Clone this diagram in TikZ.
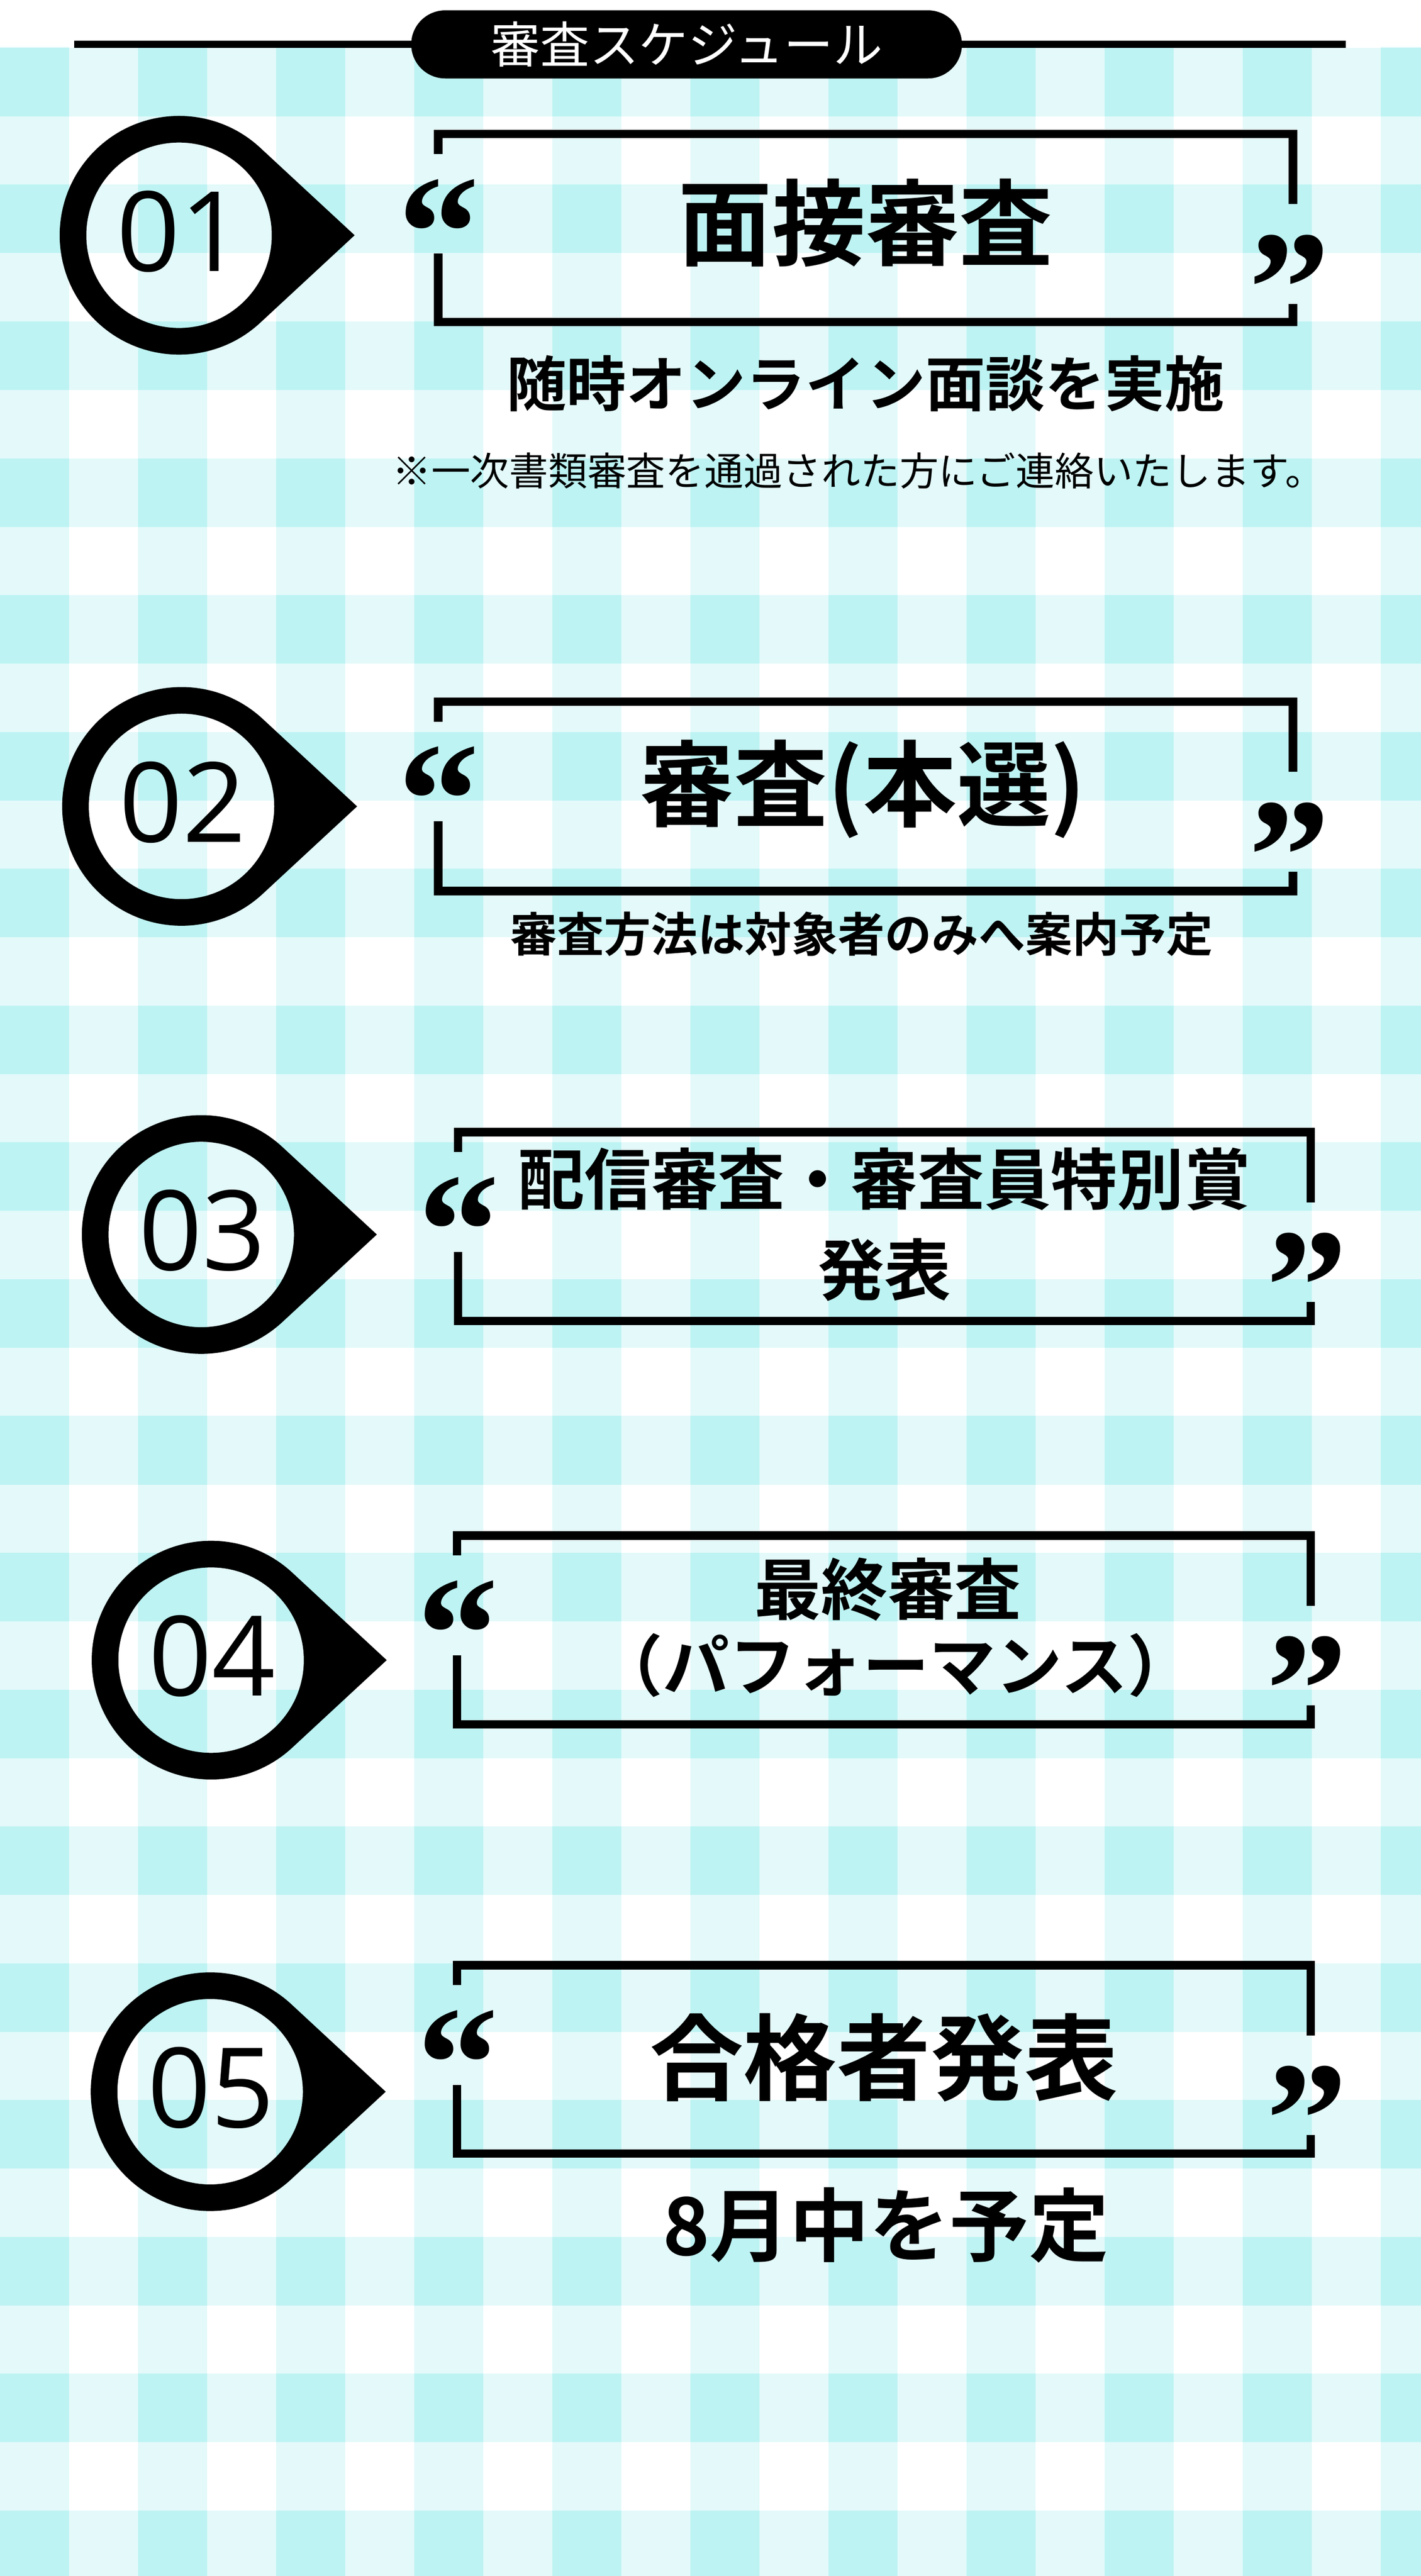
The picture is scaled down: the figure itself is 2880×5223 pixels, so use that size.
\documentclass[tikz,border=0pt]{standalone}
\usepackage{fontspec}
\setmainfont{Open Sans}
\newfontfamily\jp{Noto Sans CJK JP}
\newfontfamily\jpbold{Noto Sans CJK JP Bold}
\newfontfamily\qfont{Liberation Serif}
\usetikzlibrary{calc}
\definecolor{gcyan}{HTML}{BDF3F3}
\definecolor{glight}{HTML}{E3F9FA}
\tikzset{
  ttl/.style={font=\jpbold\fontsize{54}{60}\selectfont, inner sep=0pt},
  mid/.style={font=\jpbold\fontsize{38.4}{44}\selectfont, inner sep=0pt},
  quote/.style={font=\qfont\bfseries\fontsize{94}{94}\selectfont, inner sep=0pt, anchor=base},
  num/.style={font=\fontsize{64}{64}\selectfont, inner sep=0pt},
}
\newcommand\mybox[5]{% name L T R B
  \draw[line width=4.84pt] (#2+8.5,-#3-49) -- (#2+8.5,-#3-8.5) -- (#4-8.5,-#3-8.5) -- (#4-8.5,-#3-151);
  \draw[line width=4.84pt] (#4-8.5,-#3-353) -- (#4-8.5,-#5+8.5) -- (#2+8.5,-#5+8.5) -- (#2+8.5,-#3-251);
  \node[quote] (#1lq) at (#2+10,-#3-137-183) {“};
  \node[quote] (#1rq) at (#4-16,-#3-250-183) {”};
}
\newcommand\mymarker[4]{% name cx cy label
  \coordinate (#1) at (#2,-#3);
  \fill[even odd rule] ($(#1)+(47:242)$) arc[start angle=47,end angle=313,radius=242] -- ($(#1)+(356,0)$) -- cycle (#1) circle[radius=188];
  \node[num] (#1n) at ($(#1)+(2,8)$) {#4};
}
\begin{document}
\begin{tikzpicture}[x=0.01cm,y=0.01cm]
\useasboundingbox (0,0) rectangle (2880,-5223);
\fill[white] (0,0) rectangle (2880,-5223);
% gingham
\foreach \i in {0,...,10} {
  \fill[glight] (\i*279.9,-95) rectangle (\i*279.9+140,-5223);
}
\foreach \j in {0,...,18} {
  \fill[glight] (0,{-max(95,97+\j*277.4)}) rectangle (2880,-97-\j*277.4-139);
}
\foreach \i in {0,...,10} {
  \foreach \j in {0,...,18} {
    \fill[gcyan] (\i*279.9,{-max(95,97+\j*277.4)}) rectangle (\i*279.9+140,-97-\j*277.4-139);
  }
}
% header
\draw[line width=4.3pt] (150,-90) coordinate (hl) -- (2728,-90) coordinate (hr);
\node[fill=black, minimum width=11.16cm, minimum height=1.38cm, inner sep=0pt, rounded corners=0.69cm] (pill) at (1392,-90) {};
\node[font=\jp\fontsize{28.5}{30}\selectfont, text=white, inner sep=0pt] (ptxt) at (1392,-90) {審査スケジュール};
% markers
\mymarker{m1}{363}{477}{01}
\mymarker{m2}{368}{1635}{02}
\mymarker{m3}{408}{2503}{03}
\mymarker{m4}{428}{3366}{04}
\mymarker{m5}{426}{4241}{05}
% boxes
\mybox{b1}{880}{263}{2630}{661}
\mybox{b2}{880}{1414}{2630}{1815}
\mybox{b3}{920}{2287}{2666}{2687}
\mybox{b4}{918}{3105}{2666}{3505}
\mybox{b5}{918}{3976}{2666}{4375}
% texts
\node[ttl] (t1) at (1755,-452) {面接審査};
\node[font=\jpbold\fontsize{34.5}{36}\selectfont, inner sep=0pt] (s1) at (1755,-778) {随時オンライン面談を実施};
\node[font=\jp\fontsize{22.5}{24}\selectfont, inner sep=0pt] (n1) at (1740,-955) {※一次書類審査を通過された方にご連絡いたします。};
\node[ttl] (t2) at (1750,-1600) {審査(本選)};
\node[font=\jpbold\fontsize{27}{29}\selectfont, inner sep=0pt] (s2) at (1747,-1894) {審査方法は対象者のみへ案内予定};
\node[mid] (t3a) at (1793,-2391) {配信審査・審査員特別賞};
\node[mid] (t3b) at (1793,-2574) {発表};
\node[mid] (t4a) at (1800,-3223) {最終審査};
\node[mid] (t4b) at (1815,-3377) {（パフォーマンス）};
\node[ttl] (t5) at (1792,-4172) {合格者発表};
\node[font=\jpbold\fontsize{46}{48}\selectfont, inner sep=0pt] (s5) at (1796,-4512) {8月中を予定};
\end{tikzpicture}
\end{document}
